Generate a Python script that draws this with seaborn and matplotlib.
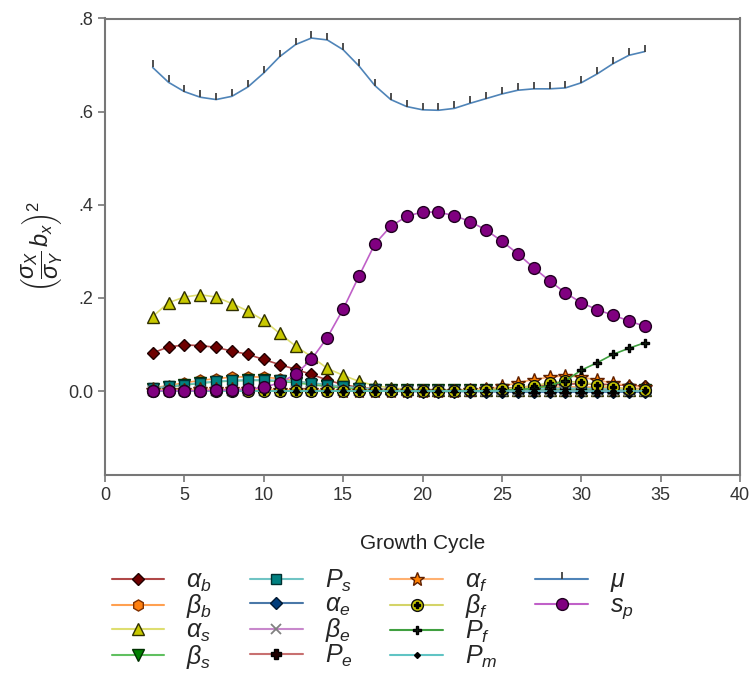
import numpy as np
import pandas as pd
import matplotlib
matplotlib.use("Agg")
import matplotlib.pyplot as plt
from matplotlib.lines import Line2D
from matplotlib.legend_handler import HandlerTuple
import seaborn as sns

sns.set_theme(style="white")
plt.rcParams['font.family'] = ['Liberation Sans', 'DejaVu Sans']
plt.rcParams['mathtext.fontset'] = 'custom'
plt.rcParams['mathtext.rm'] = 'Liberation Sans'
plt.rcParams['mathtext.it'] = 'Liberation Sans:italic'
plt.rcParams['mathtext.bf'] = 'Liberation Sans:bold'

cycles = list(range(3, 35))

alpha_b = [0.082, 0.095, 0.099, 0.098, 0.094, 0.086, 0.079, 0.068, 0.057, 0.047, 0.036, 0.024,
           0.014, 0.008, 0.005, 0.003, 0.002, 0.002, 0.002, 0.002, 0.003, 0.004, 0.006, 0.008,
           0.011, 0.013, 0.015, 0.016, 0.015, 0.014, 0.012, 0.010]
beta_b = [0.007, 0.012, 0.018, 0.023, 0.027, 0.030, 0.031, 0.030, 0.027, 0.022, 0.017, 0.012,
          0.008, 0.005, 0.003, 0.002, 0.001, 0.001, 0.001, 0.001, 0.001, 0.002, 0.003, 0.005,
          0.007, 0.008, 0.009, 0.009, 0.008, 0.007, 0.006, 0.005]
alpha_s = [0.160, 0.190, 0.202, 0.207, 0.202, 0.188, 0.172, 0.152, 0.124, 0.097, 0.074, 0.049,
           0.034, 0.021, 0.012, 0.007, 0.004, 0.003, 0.002, 0.002, 0.002, 0.002, 0.002, 0.002,
           0.002, 0.002, 0.002, 0.002, 0.002, 0.002, 0.002, 0.002]
beta_s = [0.005, 0.009, 0.013, 0.017, 0.020, 0.022, 0.023, 0.023, 0.021, 0.018, 0.014, 0.010,
          0.007, 0.004, 0.003, 0.002, 0.002, 0.002, 0.002, 0.002, 0.002, 0.002, 0.002, 0.003,
          0.003, 0.004, 0.004, 0.004, 0.003, 0.003, 0.002, 0.002]
P_s = [0.006, 0.010, 0.014, 0.018, 0.021, 0.023, 0.024, 0.024, 0.023, 0.021, 0.018, 0.014,
       0.010, 0.007, 0.004, 0.003, 0.002, 0.002, 0.002, 0.002, 0.002, 0.002, 0.003, 0.004,
       0.005, 0.006, 0.006, 0.006, 0.005, 0.004, 0.004, 0.003]
alpha_e = [0.000, 0.000, 0.000, 0.000, 0.000, 0.000, 0.000, 0.000, 0.000, 0.000, 0.000, 0.000,
           0.000, 0.000, 0.000, 0.000, -0.001, -0.001, -0.001, -0.001, -0.001, -0.001, -0.002, -0.002,
           -0.002, -0.002, -0.002, -0.002, -0.002, -0.002, -0.002, -0.002]
beta_e = [0.001, 0.001, 0.001, 0.001, 0.001, 0.001, 0.001, 0.001, 0.001, 0.001, 0.001, 0.001,
          0.001, 0.001, 0.001, 0.001, 0.001, 0.001, 0.001, 0.001, 0.001, 0.001, 0.001, 0.001,
          0.001, 0.001, 0.001, 0.001, 0.001, 0.001, 0.001, 0.001]
P_e = [0.001, 0.001, 0.002, 0.002, 0.002, 0.002, 0.002, 0.002, 0.002, 0.002, 0.001, 0.001,
       0.001, 0.001, 0.001, 0.001, 0.001, 0.001, 0.001, 0.001, 0.001, 0.001, 0.001, 0.001,
       0.001, 0.001, 0.001, 0.001, 0.001, 0.001, 0.001, 0.001]
alpha_f = [0.002, 0.003, 0.003, 0.004, 0.004, 0.004, 0.004, 0.004, 0.003, 0.003, 0.002, 0.002,
           0.001, 0.001, 0.001, 0.001, 0.001, 0.001, 0.001, 0.001, 0.002, 0.005, 0.010, 0.018,
           0.025, 0.030, 0.033, 0.030, 0.024, 0.017, 0.012, 0.008]
beta_f = [0.001, 0.001, 0.001, 0.001, 0.001, 0.001, 0.001, 0.001, 0.001, 0.001, 0.001, 0.001,
          0.001, 0.001, 0.001, 0.001, 0.001, 0.001, 0.001, 0.001, 0.002, 0.003, 0.005, 0.007,
          0.011, 0.018, 0.021, 0.019, 0.014, 0.008, 0.004, 0.002]
P_f = [0.000, 0.000, 0.000, 0.000, 0.000, 0.000, 0.000, 0.000, 0.000, 0.000, 0.000, 0.000,
       0.000, 0.000, 0.000, 0.000, 0.000, 0.000, 0.000, 0.000, 0.000, 0.001, 0.002, 0.003,
       0.006, 0.012, 0.022, 0.045, 0.061, 0.079, 0.092, 0.104]
P_m = [0.000, 0.000, 0.000, 0.000, 0.000, 0.000, 0.000, 0.000, 0.000, 0.000, 0.000, 0.000,
       0.000, 0.000, 0.000, 0.000, 0.000, 0.000, 0.000, 0.000, 0.000, 0.000, 0.000, 0.000,
       0.000, 0.000, 0.000, 0.000, 0.000, 0.000, 0.000, 0.000]
mu = [0.695, 0.663, 0.643, 0.631, 0.626, 0.633, 0.653, 0.683, 0.718, 0.744, 0.758, 0.754,
      0.733, 0.698, 0.656, 0.626, 0.611, 0.604, 0.603, 0.607, 0.618, 0.628, 0.638, 0.646,
      0.649, 0.649, 0.651, 0.662, 0.681, 0.703, 0.721, 0.729]
s_p = [0.001, 0.001, 0.001, 0.001, 0.002, 0.003, 0.004, 0.008, 0.018, 0.036, 0.068, 0.115,
       0.176, 0.247, 0.316, 0.354, 0.375, 0.385, 0.384, 0.377, 0.364, 0.346, 0.322, 0.295,
       0.265, 0.237, 0.211, 0.190, 0.175, 0.163, 0.151, 0.139]

labels = [r'$\alpha_b$', r'$\beta_b$', r'$\alpha_s$', r'$\beta_s$',
          r'$P_s$', r'$\alpha_e$', r'$\beta_e$', r'$P_e$',
          r'$\alpha_f$', r'$\beta_f$', r'$P_f$', r'$P_m$',
          r'$\mu$', r'$s_p$']
series = [alpha_b, beta_b, alpha_s, beta_s, P_s, alpha_e, beta_e, P_e,
          alpha_f, beta_f, P_f, P_m, mu, s_p]

# style: (line color, marker, marker size, face, edge)
styles = [
    ('#b04848', 'D', 6.5, '#6e0000', '#200000'),
    ('#ffa050', 'h', 8, '#ff8010', '#803000'),
    ('#dede70', '^', 9, '#c8c800', '#303000'),
    ('#60c060', 'v', 9, '#008000', '#003000'),
    ('#70c4c4', 's', 7.5, '#008080', '#003030'),
    ('#4a78a8', 'D', 6.5, '#003c7a', '#001830'),
    ('#c888cc', 'x', 7, '#808080', '#808080'),
    ('#c87070', 'P', 7.5, '#200000', '#000000'),
    ('#ffb070', '*', 10, '#ff8000', '#602000'),
    ('#d4d468', 'o', 8.5, '#c8c800', '#101010'),
    ('#40a040', 'P', 6, '#102010', '#000000'),
    ('#60c4c4', 'D', 3, '#000000', '#000000'),
    ('#4f84b8', 2, 5, '#404040', '#404040'),
    ('#c060c8', 'o', 8.5, '#800080', '#200020'),
]

df = pd.DataFrame({'cycle': np.tile(cycles, len(series)),
                   'value': np.concatenate(series),
                   'name': np.repeat(labels, len(cycles))})

fig = plt.figure(figsize=(7.56, 6.77), dpi=100)
ax = fig.add_axes([105/756, 1 - 475/677, (740 - 105)/756, (475 - 18.5)/677])

handles = []
for i, (lab, st) in enumerate(zip(labels, styles)):
    lc, mk, ms, fc, ec = st
    sub = df[df['name'] == lab]
    mew = 1.3 if mk in ('x', 2) else 1.0
    sns.lineplot(data=sub, x='cycle', y='value', ax=ax, color=lc, lw=1.2,
                 marker=mk, markersize=ms, markerfacecolor=fc, markeredgecolor=ec,
                 markeredgewidth=mew, zorder=2 + i, legend=False, estimator=None)
    h = Line2D([], [], color=lc, lw=1.5, marker=mk, markersize=ms,
               markerfacecolor=fc, markeredgecolor=ec, markeredgewidth=mew)
    if lab == r'$\beta_f$':
        ax.plot(sub['cycle'], sub['value'], lw=0, marker='P', markersize=4,
                color='#000000', zorder=2 + i)
        h2 = Line2D([], [], lw=0, marker='P', markersize=4, color='#000000')
        handles.append((h, h2))
    else:
        handles.append(h)

ax.set_xlim(0, 40)
ax.set_ylim(-0.18, 0.8)
ax.set_xticks(range(0, 41, 5))
ax.set_yticks([0.0, 0.2, 0.4, 0.6, 0.8])
ax.set_yticklabels(['0.0', '.2', '.4', '.6', '.8'])
ax.tick_params(axis='both', direction='out', length=5, width=1.2, color='#777777',
               labelsize=13, labelcolor='#333333', left=True, bottom=True)
for s in ax.spines.values():
    s.set_color('#777777')
    s.set_linewidth(1.5)
ax.set_xlabel('Growth Cycle', fontsize=15, color='#222222', labelpad=22)
ax.set_ylabel(r'$\left(\dfrac{\sigma_X}{\sigma_Y}\,b_x\right)^2$', fontsize=17,
              color='#222222', labelpad=2)
ax.grid(False)

blank = Line2D([], [], lw=0, marker=None)
leg_handles = handles + [blank, blank]
leg_labels = labels + ['', '']
fig.legend(leg_handles, leg_labels, loc='upper left', bbox_to_anchor=(89/756, 1 - 545/677),
           ncol=4, frameon=False, fontsize=18, handlelength=2.1, handletextpad=0.9,
           columnspacing=1.5, labelspacing=-0.05,
           handler_map={tuple: HandlerTuple(ndivide=1, pad=0)})

fig.savefig('out.png', dpi=100)
